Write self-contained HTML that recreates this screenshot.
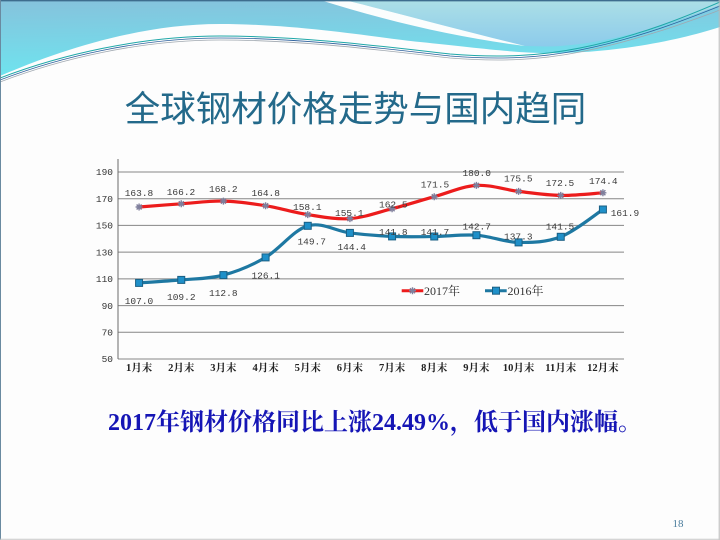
<!DOCTYPE html>
<html>
<head>
<meta charset="utf-8">
<style>
  html,body{margin:0;padding:0;background:#ffffff;}
  body{width:720px;height:540px;overflow:hidden;position:relative;}
  svg{position:absolute;left:0;top:0;}
</style>
</head>
<body>
<svg width="720" height="540" viewBox="0 0 720 540" xmlns="http://www.w3.org/2000/svg">
  <defs>
    <linearGradient id="gMain" x1="0" y1="0" x2="0.15" y2="1">
      <stop offset="0" stop-color="#86c2dc"/>
      <stop offset="1" stop-color="#6ee4ef"/>
    </linearGradient>
    <linearGradient id="gUpper" x1="0" y1="0" x2="0" y2="1">
      <stop offset="0" stop-color="#acdfe6"/>
      <stop offset="1" stop-color="#8ccbeb"/>
    </linearGradient>
  </defs>
  <rect x="0" y="0" width="720" height="540" fill="#fdfdfd"/>

  <!-- top waves -->
  <path d="M0,0 H720 V27 C680,40 620,52 560,53 C520,54 480,48 420,42 C380,38 300,24 220,24 C140,24 60,50 0,76 Z" fill="url(#gMain)"/>
  <path d="M345,0 H720 V5 C680,20 620,42 560,46 C545,47 532,46 525,46 C460,30 400,14 345,0 Z" fill="url(#gUpper)"/>
  <path d="M320,0 L345,0 C400,14 460,30 525,46 C460,38 390,22 320,0 Z" fill="#fbfdfd"/>
  <path d="M0,78 C60,55 140,36 220,36 C300,36 380,46 450,54 C500,58 540,56 580,48 C640,36 690,15 720,2" fill="none" stroke="#1fa7a8" stroke-width="1"/>
  <path d="M0,80 C60,57 140,38 220,38 C300,38 380,48 450,56 C500,60 540,58 580,50 C640,38 690,18 720,6" fill="none" stroke="#2b5f9c" stroke-width="0.8"/>
  <path d="M0,82 C60,59 140,40 220,40 C300,40 380,50 450,58 C500,62 540,60 580,52 C640,40 690,21 720,10" fill="none" stroke="#a0a8b0" stroke-width="0.8"/>

  <!-- borders -->
  <line x1="0" y1="0.7" x2="720" y2="0.7" stroke="#3e6d8e" stroke-width="1.4"/>
  <line x1="0.5" y1="0" x2="0.5" y2="540" stroke="#6a8aa0" stroke-width="1"/>
  <line x1="719.2" y1="0" x2="719.2" y2="540" stroke="#b8b8b8" stroke-width="1"/>
  <line x1="0" y1="539.3" x2="720" y2="539.3" stroke="#c8c8c8" stroke-width="1"/>

  <!-- title -->
  <text x="355.5" y="121" text-anchor="middle" font-family="'Noto Sans CJK SC', 'WenQuanYi Zen Hei', sans-serif" font-size="35.5" fill="#23698a">全球钢材价格走势与国内趋同</text>

  <!-- gridlines -->
  <g stroke="#868686" stroke-width="1">
    <line x1="118" y1="172" x2="624" y2="172"/>
    <line x1="118" y1="198.7" x2="624" y2="198.7"/>
    <line x1="118" y1="225.4" x2="624" y2="225.4"/>
    <line x1="118" y1="252.1" x2="624" y2="252.1"/>
    <line x1="118" y1="278.9" x2="624" y2="278.9"/>
    <line x1="118" y1="305.6" x2="624" y2="305.6"/>
    <line x1="118" y1="332.3" x2="624" y2="332.3"/>
    <line x1="118" y1="359" x2="624" y2="359"/>
  </g>
  <line x1="118" y1="159" x2="118" y2="359" stroke="#6a6a6a" stroke-width="1"/>

  <!-- y tick labels -->
  <g font-family="'Liberation Mono', monospace" font-size="9.5" fill="#333" text-anchor="end">
    <text x="113" y="175.2">190</text>
    <text x="113" y="201.9">170</text>
    <text x="113" y="228.6">150</text>
    <text x="113" y="255.3">130</text>
    <text x="113" y="282.1">110</text>
    <text x="113" y="308.8">90</text>
    <text x="113" y="335.5">70</text>
    <text x="113" y="362.2">50</text>
  </g>

  <!-- category labels -->
  <g font-family="'Liberation Serif', 'Noto Serif CJK SC', serif" font-size="10.5" font-weight="bold" fill="#222" text-anchor="middle">
    <text x="139.08" y="371">1月末</text>
    <text x="181.25" y="371">2月末</text>
    <text x="223.42" y="371">3月末</text>
    <text x="265.58" y="371">4月末</text>
    <text x="307.75" y="371">5月末</text>
    <text x="349.92" y="371">6月末</text>
    <text x="392.08" y="371">7月末</text>
    <text x="434.25" y="371">8月末</text>
    <text x="476.42" y="371">9月末</text>
    <text x="518.58" y="371">10月末</text>
    <text x="560.75" y="371">11月末</text>
    <text x="602.92" y="371">12月末</text>
  </g>

  <!-- 2016 series -->
  <path d="M139.08,282.9 C146.11,282.4 167.19,281.2 181.25,279.9 C195.31,278.6 209.36,278.85 223.42,275.1 C237.48,271.35 251.52,265.62 265.58,257.4 C279.64,249.18 293.69,229.88 307.75,225.8 C321.81,221.72 335.86,231.13 349.92,232.9 C363.98,234.67 378.02,235.8 392.08,236.4 C406.14,237.0 420.19,236.7 434.25,236.5 C448.31,236.3 462.36,234.22 476.42,235.2 C490.48,236.18 504.52,242.13 518.58,242.4 C532.64,242.67 546.69,242.28 560.75,236.8 C574.81,231.32 595.89,214.05 602.92,209.5" fill="none" stroke="#1e78a2" stroke-width="3.2" stroke-linejoin="round"/>
  <g fill="#1f90c9" stroke="#1a5f84" stroke-width="1">
    <rect x="135.58" y="279.4" width="7" height="7"/>
    <rect x="177.75" y="276.4" width="7" height="7"/>
    <rect x="219.92" y="271.6" width="7" height="7"/>
    <rect x="262.08" y="253.9" width="7" height="7"/>
    <rect x="304.25" y="222.3" width="7" height="7"/>
    <rect x="346.42" y="229.4" width="7" height="7"/>
    <rect x="388.58" y="232.9" width="7" height="7"/>
    <rect x="430.75" y="233.0" width="7" height="7"/>
    <rect x="472.92" y="231.7" width="7" height="7"/>
    <rect x="515.08" y="238.9" width="7" height="7"/>
    <rect x="557.25" y="233.3" width="7" height="7"/>
    <rect x="599.42" y="206.0" width="7" height="7"/>
  </g>

  <!-- 2017 series -->
  <path d="M139.08,207.0 C146.11,206.47 167.19,204.78 181.25,203.8 C195.31,202.82 209.36,200.78 223.42,201.1 C237.48,201.42 251.52,203.45 265.58,205.7 C279.64,207.95 293.69,212.45 307.75,214.6 C321.81,216.75 335.86,219.58 349.92,218.6 C363.98,217.62 378.02,212.35 392.08,208.7 C406.14,205.05 420.19,200.58 434.25,196.7 C448.31,192.82 462.36,186.28 476.42,185.4 C490.48,184.52 504.52,189.73 518.58,191.4 C532.64,193.07 546.69,195.17 560.75,195.4 C574.81,195.63 595.89,193.23 602.92,192.8" fill="none" stroke="#ec1c1c" stroke-width="3.2" stroke-linejoin="round"/>
  <g stroke="#7f7f9c" stroke-width="1.4" fill="none">
    <path d="M139.08,203.5 v7 M135.58,207.0 h7 M136.6,204.5 l5,5 M141.6,204.5 l-5,5"/>
    <path d="M181.25,200.3 v7 M177.75,203.8 h7 M178.8,201.3 l5,5 M183.8,201.3 l-5,5"/>
    <path d="M223.42,197.6 v7 M219.92,201.1 h7 M220.9,198.6 l5,5 M225.9,198.6 l-5,5"/>
    <path d="M265.58,202.2 v7 M262.08,205.7 h7 M263.1,203.2 l5,5 M268.1,203.2 l-5,5"/>
    <path d="M307.75,211.1 v7 M304.25,214.6 h7 M305.3,212.1 l5,5 M310.3,212.1 l-5,5"/>
    <path d="M349.92,215.1 v7 M346.42,218.6 h7 M347.4,216.1 l5,5 M352.4,216.1 l-5,5"/>
    <path d="M392.08,205.2 v7 M388.58,208.7 h7 M389.6,206.2 l5,5 M394.6,206.2 l-5,5"/>
    <path d="M434.25,193.2 v7 M430.75,196.7 h7 M431.8,194.2 l5,5 M436.8,194.2 l-5,5"/>
    <path d="M476.42,181.9 v7 M472.92,185.4 h7 M473.9,182.9 l5,5 M478.9,182.9 l-5,5"/>
    <path d="M518.58,187.9 v7 M515.08,191.4 h7 M516.1,188.9 l5,5 M521.1,188.9 l-5,5"/>
    <path d="M560.75,191.9 v7 M557.25,195.4 h7 M558.3,192.9 l5,5 M563.3,192.9 l-5,5"/>
    <path d="M602.92,189.3 v7 M599.42,192.8 h7 M600.4,190.3 l5,5 M605.4,190.3 l-5,5"/>
  </g>

  <!-- data labels -->
  <g font-family="'Liberation Mono', monospace" font-size="9.5" fill="#3a3a3a" text-anchor="middle">
    <text x="139" y="196">163.8</text>
    <text x="181" y="195">166.2</text>
    <text x="223.3" y="192">168.2</text>
    <text x="265.7" y="196">164.8</text>
    <text x="307.3" y="210">158.1</text>
    <text x="349.3" y="216">155.1</text>
    <text x="393.3" y="207.6">162.5</text>
    <text x="435" y="187.6">171.5</text>
    <text x="476.7" y="176">180.0</text>
    <text x="518.3" y="181.6">175.5</text>
    <text x="560" y="186">172.5</text>
    <text x="603.3" y="184">174.4</text>

    <text x="139" y="304">107.0</text>
    <text x="181.3" y="300">109.2</text>
    <text x="223.3" y="296">112.8</text>
    <text x="265.7" y="278.6">126.1</text>
    <text x="311.7" y="244.3">149.7</text>
    <text x="351.7" y="250">144.4</text>
    <text x="393.3" y="235">141.8</text>
    <text x="435" y="235">141.7</text>
    <text x="476.7" y="229.3">142.7</text>
    <text x="518.3" y="239.3">137.3</text>
    <text x="560" y="229.3">141.5</text>
    <text x="610.7" y="216" text-anchor="start">161.9</text>
  </g>

  <!-- legend -->
  <line x1="401.7" y1="290.7" x2="423.3" y2="290.7" stroke="#ec1c1c" stroke-width="3"/>
  <path d="M412.5,287.2 v7 M409,290.7 h7 M410,288.2 l5,5 M415,288.2 l-5,5" stroke="#7f7f9c" stroke-width="1.4" fill="none"/>
  <text x="424" y="295" font-family="'Liberation Serif', 'Noto Serif CJK SC', serif" font-size="12" fill="#333">2017年</text>
  <line x1="485" y1="290.7" x2="506.7" y2="290.7" stroke="#1e78a2" stroke-width="3"/>
  <rect x="492.5" y="287.2" width="7" height="7" fill="#1f90c9" stroke="#1a5f84" stroke-width="1"/>
  <text x="507.5" y="295" font-family="'Liberation Serif', 'Noto Serif CJK SC', serif" font-size="12" fill="#333">2016年</text>

  <!-- bottom statement -->
  <text x="108" y="430" font-family="'Liberation Serif', 'Noto Serif CJK SC', serif" font-size="24" font-weight="bold" fill="#1515b5">2017年钢材价格同比上涨24.49%，低于国内涨幅。</text>

  <!-- page number -->
  <text x="678" y="527" text-anchor="middle" font-family="'Liberation Serif', serif" font-size="11" fill="#4a7c9c">18</text>
</svg>
</body>
</html>
